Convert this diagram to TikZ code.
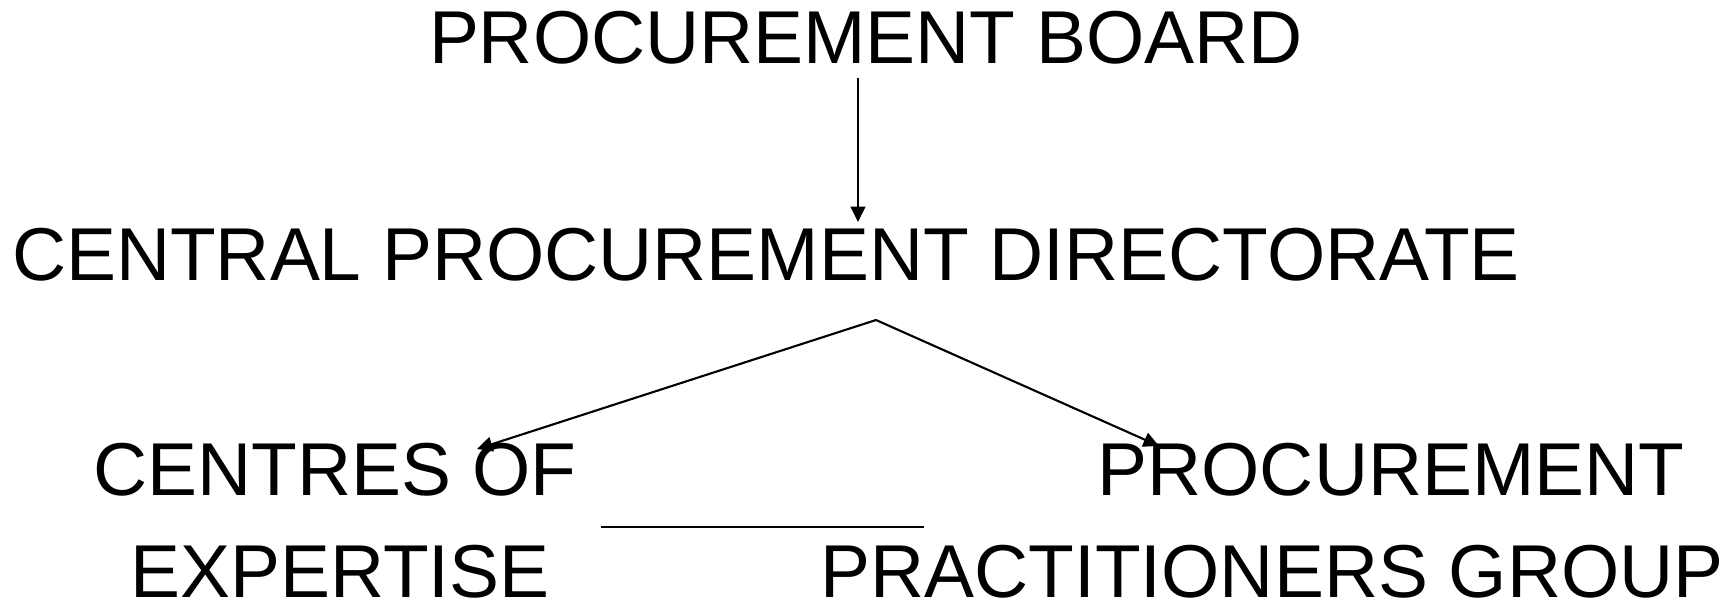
\documentclass[tikz,border=0pt]{standalone}
\usepackage{fontspec}
\setmainfont{Liberation Sans}
\usetikzlibrary{arrows.meta}
\tikzstyle{every edge} = [draw,line width=0.6pt,-{Triangle[length=4.4pt,width=4.2pt]}]
\tikzstyle{orgtext} = [inner sep=0pt,anchor=base,font=\fontsize{21.3}{26}\selectfont]

\begin{document}
\begin{tikzpicture}[x=0.01cm,y=0.01cm]
\useasboundingbox (0,0) rectangle (1732,-606);

\node[orgtext] (pb) at (866,-64) {PROCUREMENT BOARD};
\node[orgtext] (cpd) at (766,-280) {CENTRAL PROCUREMENT DIRECTORATE};
\node[orgtext] (coe1) at (335,-495) {CENTRES OF};
\node[orgtext] (coe2) at (340,-597) {EXPERTISE};
\node[orgtext] (ppg1) at (1391,-495) {PROCUREMENT};
\node[orgtext] (ppg2) at (1272,-597) {PRACTITIONERS GROUP};

\coordinate (pbout) at (858,-78);
\coordinate (cpdin) at (858,-222);
\coordinate (fork) at (876,-320);
\coordinate (coein) at (477,-449);
\coordinate (ppgin) at (1159,-446);
\coordinate (barl) at (601,-527);
\coordinate (barr) at (924,-527);

\draw (pbout) edge (cpdin);
\draw (fork) edge (coein);
\draw (fork) edge (ppgin);
\draw[line width=0.6pt] (barl) -- (barr);

\end{tikzpicture}
\end{document}
